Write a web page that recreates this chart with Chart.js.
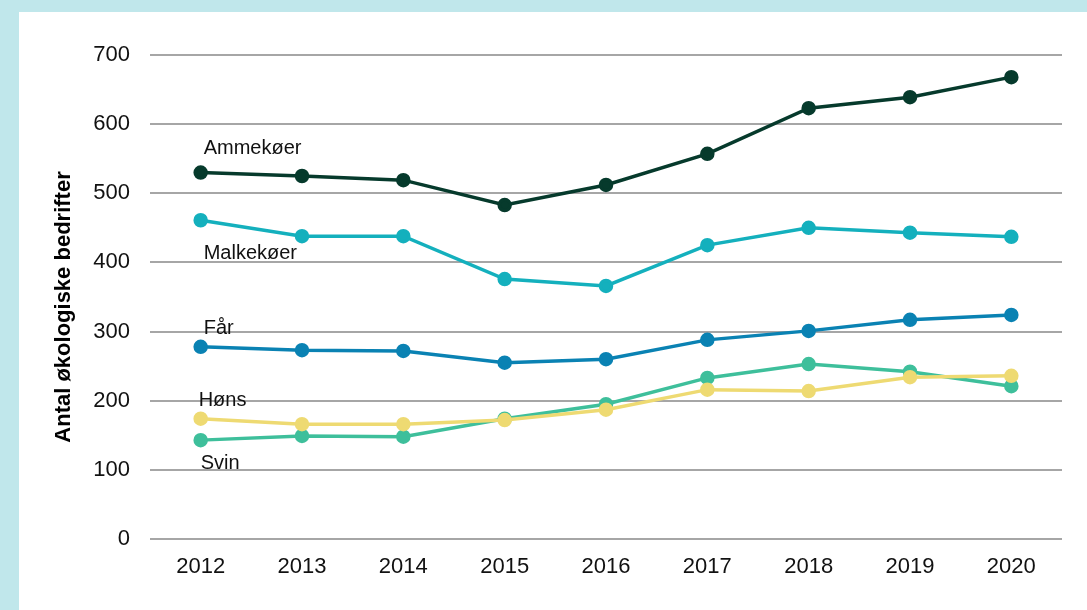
<!DOCTYPE html>
<html>
<head>
<meta charset="utf-8">
<script src="https://cdn.jsdelivr.net/npm/chart.js@4"></script>
<style>
  html, body { margin: 0; padding: 0; }
  body { width: 1087px; height: 610px; background: #c0e7eb; position: relative; overflow: hidden; }
  #panel { position: absolute; left: 19px; top: 12px; width: 1068px; height: 598px; background: #ffffff; }
  #c { display: block; }
</style>
</head>
<body>
<div id="panel"><canvas id="c" width="1068" height="598"></canvas></div>
<script>
const years = ['2012','2013','2014','2015','2016','2017','2018','2019','2020'];
const ammekoer  = [530, 525, 519, 483, 512, 557, 623, 639, 668];
const malkekoer = [461, 438, 438, 376, 366, 425, 450, 443, 437];
const faar      = [278, 273, 272, 255, 260, 288, 301, 317, 324];
const hoens     = [174, 166, 166, 172, 187, 216, 214, 234, 236];
const svin      = [143, 149, 148, 174, 195, 233, 253, 242, 221];
const yTicks = [0, 100, 200, 300, 400, 500, 600, 700];
const yTitle = 'Antal økologiske bedrifter';

// series label text and offset (in px) from the first data point
const seriesLabels = [
  { text: 'Ammekøer',  dataset: 0, dx: 3,  dy: -24 },
  { text: 'Malkekøer', dataset: 1, dx: 3,  dy: 33 },
  { text: 'Får',       dataset: 2, dx: 3,  dy: -18 },
  { text: 'Høns',      dataset: 3, dx: -2, dy: -18 },
  { text: 'Svin',      dataset: 4, dx: 0,  dy: 23 }
];

const FONT = '"Liberation Sans", Arial, sans-serif';

const labelPlugin = {
  id: 'seriesLabels',
  afterDatasetsDraw(chart) {
    const ctx = chart.ctx;
    ctx.save();
    ctx.font = '20px ' + FONT;
    ctx.fillStyle = '#111111';
    ctx.textAlign = 'left';
    ctx.textBaseline = 'middle';
    seriesLabels.forEach(l => {
      const pt = chart.getDatasetMeta(l.dataset).data[0];
      ctx.fillText(l.text, pt.x + l.dx, pt.y + l.dy);
    });
    ctx.restore();
    // y-axis title
    const ya = chart.scales.y;
    ctx.save();
    ctx.font = 'bold 22px ' + FONT;
    ctx.fillStyle = '#000000';
    ctx.textAlign = 'center';
    ctx.textBaseline = 'middle';
    ctx.translate(45, (ya.top + ya.bottom) / 2 + 10);
    ctx.rotate(-Math.PI / 2);
    ctx.fillText(yTitle, 0, 0);
    ctx.restore();
  }
};

function ds(label, data, color, r) {
  return {
    label, data,
    borderColor: color, backgroundColor: color,
    pointBackgroundColor: color, pointBorderColor: color,
    borderWidth: 3.5, pointRadius: r, pointHoverRadius: r,
    tension: 0
  };
}

new Chart(document.getElementById('c'), {
  type: 'line',
  data: {
    labels: years,
    datasets: [
      ds('Ammekøer', ammekoer, '#063a2c', 5.5),
      ds('Malkekøer', malkekoer, '#14b0bd', 5.5),
      ds('Får', faar, '#0a82b3', 5.5),
      ds('Høns', hoens, '#eeda72', 5.5),
      ds('Svin', svin, '#3ebf9b', 5.5)
    ]
  },
  options: {
    responsive: false,
    animation: false,
    devicePixelRatio: 1,
    layout: { padding: { top: 43, right: 25, bottom: 0, left: 0 } },
    plugins: { legend: { display: false }, tooltip: { enabled: false } },
    scales: {
      x: {
        offset: true,
        grid: { display: false, drawTicks: false },
        border: { display: false },
        ticks: { color: '#111111', padding: 15, font: { size: 22, family: FONT } },
        afterFit(scale) { scale.height = 71; }
      },
      y: {
        min: 0, max: 700,
        afterBuildTicks(scale) { scale.ticks = yTicks.map(v => ({ value: v })); },
        grid: { color: '#a6a6a6', lineWidth: 2, drawTicks: false },
        border: { display: false },
        ticks: { color: '#111111', padding: 20, font: { size: 22, family: FONT } },
        title: { display: false },
        afterFit(scale) { scale.width = 131; }
      }
    }
  },
  plugins: [labelPlugin]
});
</script>
</body>
</html>
